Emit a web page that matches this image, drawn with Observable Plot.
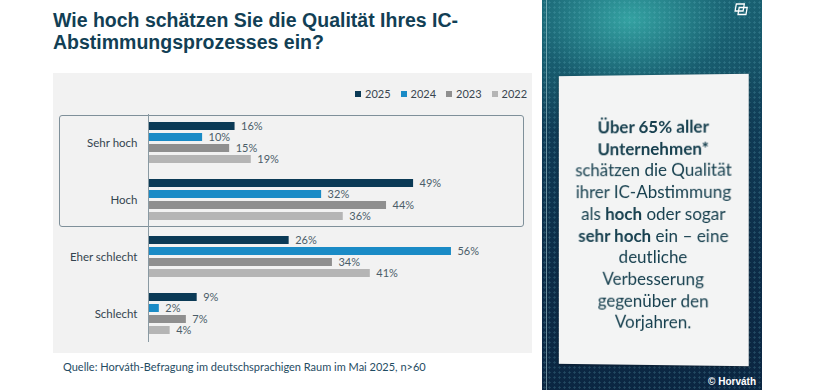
<!DOCTYPE html>
<html>
<head>
<meta charset="utf-8">
<script src="https://cdn.jsdelivr.net/npm/d3@7"></script>
<script src="https://cdn.jsdelivr.net/npm/@observablehq/plot@0.6"></script>
<style>
  html, body { margin: 0; padding: 0; background: #fff; }
  #page { position: relative; width: 820px; height: 390px; overflow: hidden; background: #fff; font-family: "Liberation Sans", Arial, sans-serif; }
  #title { position: absolute; left: 53px; top: 9px; font-weight: bold; font-size: 19.5px; line-height: 22px; color: #123f55; }
  #panel { position: absolute; left: 53px; top: 73px; width: 479px; height: 280px; background: #f2f2f2; }
  #chart { position: absolute; left: 0; top: 0; }
  #legend { position: absolute; top: 14px; left: 302px; display: flex; gap: 0; font-family: Lato, "Open Sans", sans-serif; font-size: 11px; color: #3a4650; }
  #legend .item { display: flex; align-items: center; margin-right: 10px; }
  #legend .sw { width: 6px; height: 6px; margin-right: 4px; }
  #box { position: absolute; left: 6px; top: 42px; width: 463px; height: 110px; border: 1.5px solid #7f909a; border-radius: 3px; }
  #source { position: absolute; left: 63px; top: 360px; font-family: Lato, "Open Sans", sans-serif; font-size: 11px; color: #1f4c63; }
  #side { position: absolute; left: 542px; top: 0; width: 220px; height: 390px;
    background:
      radial-gradient(circle, rgba(120,200,210,0.22) 0.9px, transparent 1.3px) 0 0 / 5px 5px,
      radial-gradient(ellipse 180px 120px at 40% 5%, rgba(55,170,168,0.9), rgba(30,115,128,0.45) 55%, transparent 100%),
      linear-gradient(180deg, #17586b 0%, #0f3a55 35%, #0c2b47 70%, #0b2642 100%); }
  #side .edge { position: absolute; left: 4px; top: 0; width: 1px; height: 390px; background: rgba(190,225,230,0.55); }
  #note { position: absolute; left: 16px; top: 75px; width: 190px; height: 290px; background: #f3f4f4;
    transform: perspective(400px) rotateY(-2deg); box-shadow: 0 1px 3px rgba(0,0,0,0.35);
    display: flex; align-items: center; justify-content: center; text-align: center; box-sizing: border-box; padding-top: 9px;
    font-family: Lato, "Open Sans", sans-serif; font-size: 17px; line-height: 21.7px; color: #17404f; }
  #copy { position: absolute; right: 6px; bottom: 3px; font-family: "Liberation Sans", Arial, sans-serif; font-weight: bold; font-size: 10px; color: #fff; }
  #icon { position: absolute; left: 192px; top: 3px; }
</style>
</head>
<body>
<div id="page">
  <div id="title">Wie hoch schätzen Sie die Qualität Ihres IC-<br>Abstimmungsprozesses ein?</div>
  <div id="panel">
    <div id="box"></div>
    <div id="chart"></div>
    <div id="legend"></div>
  </div>
  <div id="source">Quelle: Horváth-Befragung im deutschsprachigen Raum im Mai 2025, n&gt;60</div>
  <div id="side">
    <div class="edge"></div>
    <svg id="icon" width="16" height="14" viewBox="0 0 16 14">
      <rect x="2.5" y="1" width="8" height="7" fill="none" stroke="#fff" stroke-width="1.3" transform="skewX(-10)"/>
      <rect x="6" y="4.5" width="8" height="7" fill="none" stroke="#fff" stroke-width="1.3" transform="skewX(-10)"/>
    </svg>
    <div id="note"><div><b>Über 65% aller<br>Unternehmen*</b><br>schätzen die Qualität<br>ihrer IC-Abstimmung<br>als <b>hoch</b> oder sogar<br><b>sehr hoch</b> ein – eine<br>deutliche<br>Verbesserung<br>gegenüber den<br>Vorjahren.</div></div>
    <div id="copy">© Horváth</div>
  </div>
</div>
<script>
const categories = ["Sehr hoch", "Hoch", "Eher schlecht", "Schlecht"];
const years = ["2025", "2024", "2023", "2022"];
const colors = ["#0b3a56", "#1a8bc6", "#8f8f8f", "#b5b5b5"];
const v2025 = [16, 49, 26, 9];
const v2024 = [10, 32, 56, 2];
const v2023 = [15, 44, 34, 7];
const v2022 = [19, 36, 41, 4];

const series = [v2025, v2024, v2023, v2022];
const data = [];
categories.forEach((c, i) => {
  years.forEach((y, j) => data.push({category: c, year: y, value: series[j][i]}));
});

const chart = Plot.plot({
  width: 479,
  height: 280,
  marginTop: 41,
  marginBottom: 11,
  marginLeft: 95,
  marginRight: 59.4,
  style: {background: "transparent", fontFamily: "Lato, 'Open Sans', sans-serif"},
  x: {domain: [0, 60], axis: null},
  y: {domain: years, axis: null, paddingInner: 0.267, paddingOuter: 0.59},
  fy: {domain: categories, paddingInner: 0, paddingOuter: 0, label: null},
  color: {domain: years, range: colors},
  marks: [
    Plot.axisFy({anchor: "left", tickSize: 0, tickPadding: 11, fontSize: 11.5, fill: "#34444f", label: null}),
    Plot.barX(data, {fy: "category", y: "year", x: "value", fill: "year"}),
    Plot.text(data, {fy: "category", y: "year", x: "value", text: d => d.value + "%", textAnchor: "start", dx: 6, fontSize: 11, fill: "#4b5d69"}),
    Plot.ruleX([0], {stroke: "#8a9aa3", strokeWidth: 1})
  ]
});
document.getElementById("chart").appendChild(chart);

const legend = document.getElementById("legend");
years.forEach((y, j) => {
  const it = document.createElement("div");
  it.className = "item";
  it.innerHTML = `<span class="sw" style="background:${colors[j]}"></span><span>${y}</span>`;
  legend.appendChild(it);
});
</script>
</body>
</html>
